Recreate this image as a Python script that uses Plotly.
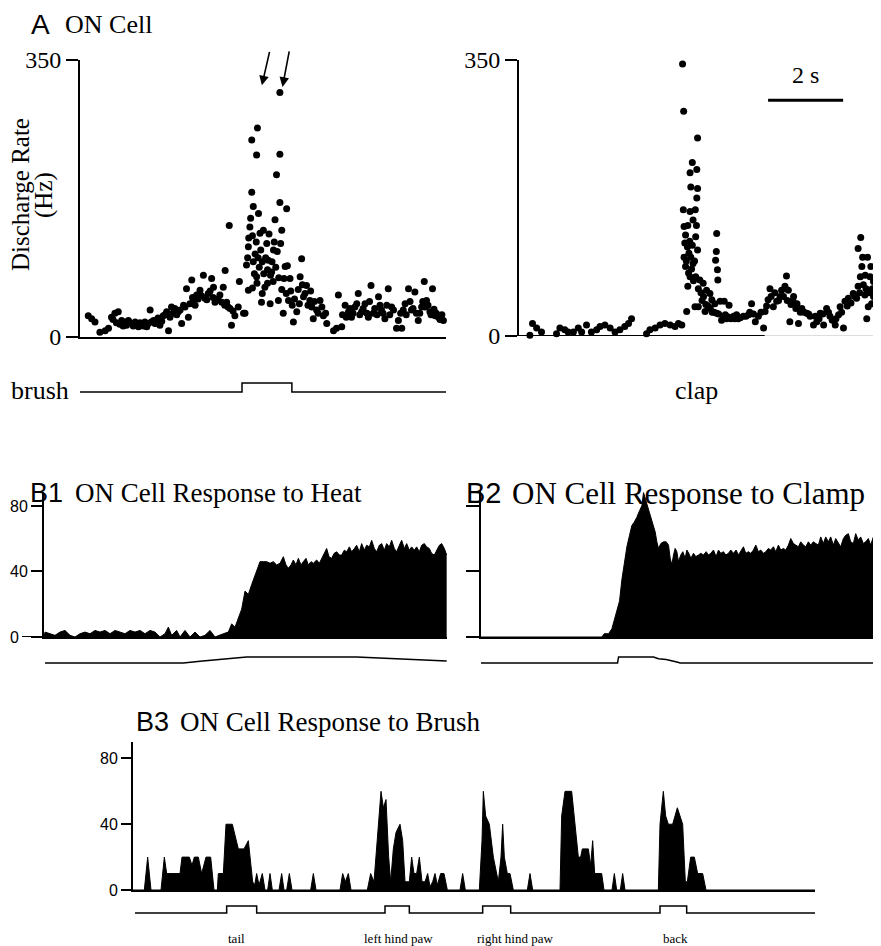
import plotly.graph_objects as go

W, H = 881, 946
PAGE_OFFSET = 8  # default body margin of the html page


def X(p):
    return (p - PAGE_OFFSET) / W


def Y(p):
    return 1 - (p - PAGE_OFFSET) / H


SERIF = "Liberation Serif, Times New Roman, serif"
SANS = "Liberation Sans, Arial, sans-serif"

# ---------------- Panel A: discharge rate (time s, rate Hz) ----------------
a_brush_rates = [
    (0.22, 27), (0.31, 23), (0.40, 19), (0.53, 6), (0.67, 8), (0.76, 11), (0.84, 25), (0.93, 30), (1.02, 32), (1.11, 21),
    (1.20, 19), (1.29, 21), (1.38, 17), (1.47, 19), (1.56, 13), (1.64, 15), (1.73, 19), (1.82, 17), (1.87, 34), (1.96, 21),
    (2.04, 17), (2.13, 15), (2.22, 27), (2.31, 32), (2.36, 8), (2.44, 38), (2.53, 36), (2.62, 32), (2.71, 17), (2.76, 40),
    (2.84, 61), (2.89, 25), (2.98, 72), (3.02, 44), (3.11, 53), (3.20, 59), (3.29, 78), (3.33, 49), (3.42, 55), (3.51, 74),
    (3.56, 63), (3.64, 46), (3.73, 53), (3.82, 63), (3.87, 84), (3.91, 44), (4.00, 36), (4.04, 15), (4.13, 27), (4.22, 38),
    (4.25, 70), (4.36, 30), (4.40, 30), (4.44, 91), (4.49, 59), (4.49, 114), (4.53, 139), (4.58, 183), (4.58, 249), (4.62, 165),
    (4.67, 105), (4.71, 76), (4.71, 230), (4.73, 264), (4.76, 156), (4.80, 131), (4.84, 44), (4.89, 135), (4.93, 63), (4.98, 118),
    (5.02, 97), (5.07, 42), (5.11, 82), (5.16, 110), (5.20, 148), (5.24, 205), (5.29, 46), (5.33, 231), (5.33, 170), (5.33, 309),
    (5.38, 135), (5.42, 30), (5.47, 89), (5.51, 162), (5.56, 46), (5.60, 74), (5.69, 19), (5.78, 32), (5.87, 76), (5.91, 99),
    (5.96, 51), (6.04, 65), (6.13, 46), (6.22, 23), (6.31, 34), (6.40, 46), (6.49, 27), (6.58, 17), (6.76, 8), (6.84, 11),
    (6.89, 53), (6.98, 13), (7.07, 40), (7.16, 32), (7.24, 25), (7.33, 38), (7.42, 55), (7.51, 32), (7.60, 42), (7.69, 25),
    (7.76, 65), (7.82, 30), (7.96, 51), (8.04, 34), (8.13, 23), (8.22, 61), (8.31, 38), (8.44, 11), (8.49, 21), (8.58, 11),
    (8.67, 42), (8.76, 61), (8.84, 34), (8.93, 57), (9.02, 21), (9.11, 38), (9.18, 70), (9.24, 46), (9.33, 32), (9.40, 61),
    (9.47, 27), (9.56, 25), (9.69, 21), (3.98, 141),
    (0.88, 22), (0.97, 18), (1.06, 16), (1.15, 14), (1.24, 15), (1.33, 18), (1.42, 14), (1.51, 16), (1.60, 18), (1.69, 14),
    (1.78, 13), (1.90, 19), (2.00, 17), (2.08, 24), (2.18, 20), (2.27, 28), (2.40, 25), (2.48, 30), (2.58, 28), (2.67, 34),
    (2.80, 38), (2.93, 42), (3.00, 50), (3.07, 40), (3.15, 48), (3.24, 52), (3.38, 47), (3.47, 58), (3.55, 50), (3.60, 44),
    (3.68, 48), (3.78, 44), (3.86, 40), (3.95, 38), (4.08, 33), (4.47, 100), (4.50, 125), (4.55, 150), (4.60, 128), (4.62, 95),
    (4.65, 80), (4.70, 120), (4.75, 100), (4.78, 88), (4.82, 110), (4.86, 95), (4.90, 80), (4.95, 100), (5.00, 85), (5.04, 130),
    (5.08, 78), (5.12, 95), (5.15, 70), (5.18, 120), (5.22, 88), (5.26, 108), (5.30, 75), (5.35, 118), (5.38, 60), (5.44, 74),
    (5.50, 55), (5.53, 90), (4.60, 62), (4.86, 55), (5.00, 68), (4.72, 68), (5.62, 58), (5.66, 40), (5.72, 48), (5.82, 60),
    (5.85, 42), (5.93, 66), (6.00, 55), (6.08, 40), (6.15, 58), (6.18, 38), (6.25, 45), (6.35, 30), (6.45, 38), (6.55, 30),
    (7.00, 28), (7.10, 25), (7.20, 36), (7.28, 30), (7.38, 42), (7.46, 28), (7.55, 36), (7.65, 30), (7.72, 45), (7.86, 36),
    (7.92, 28), (8.00, 40), (8.08, 30), (8.18, 40), (8.26, 28), (8.36, 34), (8.55, 30), (8.62, 34), (8.70, 28), (8.80, 45),
    (8.88, 36), (8.97, 30), (9.06, 30), (9.14, 45), (9.20, 38), (9.28, 40), (9.36, 28), (9.44, 35), (9.50, 30), (9.60, 22),
    (9.65, 28),
]

a_clap_rates = [
    (0.29, 1), (0.36, 16), (0.47, 10), (0.60, 5), (1.00, 3), (1.09, 10), (1.22, 8), (1.31, 5), (1.45, 5), (1.58, 10),
    (1.67, 5), (1.80, 14), (1.93, 5), (2.07, 8), (2.16, 12), (2.29, 14), (2.43, 10), (2.56, 5), (2.69, 8), (2.82, 12),
    (2.92, 16), (3.00, 22), (3.40, 3), (3.49, 8), (3.63, 10), (3.76, 14), (3.89, 16), (4.03, 14), (4.16, 12), (4.25, 16),
    (4.34, 14), (4.36, 345), (4.39, 285), (4.76, 251), (4.62, 220), (4.74, 211), (4.56, 207), (4.58, 189), (4.76, 187), (4.74, 175),
    (4.56, 158), (4.64, 147), (4.40, 139), (4.44, 128), (4.71, 126), (4.49, 113), (4.76, 109), (4.53, 105), (4.44, 88), (4.64, 92),
    (4.56, 75), (4.71, 75), (4.50, 63), (4.82, 71), (5.27, 130), (5.26, 107), (5.24, 96), (5.29, 84), (5.30, 71), (4.91, 67),
    (5.00, 58), (5.09, 54), (5.14, 46), (5.22, 41), (5.36, 44), (5.47, 44), (5.60, 39), (4.47, 31), (4.69, 37), (4.78, 37),
    (4.96, 31), (5.27, 29), (5.40, 20), (5.53, 22), (5.72, 25), (5.84, 22), (5.98, 25), (6.12, 27), (6.20, 41), (6.30, 18),
    (6.38, 25), (6.52, 10), (6.56, 31), (6.64, 46), (6.69, 60), (6.78, 37), (6.87, 44), (6.96, 50), (7.00, 58), (7.09, 63),
    (7.13, 76), (7.18, 58), (7.22, 18), (7.32, 50), (7.41, 41), (7.45, 16), (7.54, 35), (7.67, 29), (7.76, 25), (7.85, 14),
    (7.94, 18), (8.03, 29), (8.12, 14), (8.20, 35), (8.29, 25), (8.43, 14), (8.52, 27), (8.56, 37), (8.65, 10), (8.69, 44),
    (8.78, 48), (8.91, 54), (9.04, 63), (9.11, 125), (9.04, 111), (9.29, 100), (9.14, 88), (9.10, 75), (9.23, 77), (9.36, 75),
    (9.45, 69), (9.31, 58), (9.22, 52), (9.45, 50), (9.31, 37), (9.27, 22), (9.40, 41), (9.60, 63), (9.64, 46),
    (4.38, 160), (4.40, 100), (4.42, 118), (4.46, 95), (4.50, 140), (4.52, 80), (4.55, 120), (4.58, 100), (4.60, 85), (4.62, 115),
    (4.65, 70), (4.68, 95), (4.70, 160), (4.73, 140), (4.78, 60), (4.85, 55), (4.88, 45), (4.92, 50), (4.98, 40), (5.04, 38),
    (5.10, 35), (5.15, 30), (5.20, 30), (5.32, 28), (5.45, 25), (5.50, 27), (5.58, 24), (5.65, 22), (5.75, 22), (5.80, 27),
    (5.90, 23), (6.05, 25), (6.15, 30), (6.25, 28), (6.45, 30), (6.60, 38), (6.72, 50), (6.82, 55), (6.92, 45), (7.05, 50),
    (7.15, 45), (7.25, 40), (7.30, 45), (7.38, 35), (7.50, 30), (7.60, 30), (7.72, 28), (7.90, 25), (8.00, 22), (8.10, 28),
    (8.25, 30), (8.35, 20), (8.45, 22), (8.60, 30), (8.75, 38), (8.85, 42), (8.95, 50), (9.00, 48), (9.08, 55), (9.18, 65),
    (9.25, 60), (9.33, 55), (9.42, 60), (9.50, 55), (9.55, 48), (9.38, 88), (9.16, 100),
]

a_rate_ticks = [0, 350]
brush_time = [0, 4.32, 4.32, 5.65, 5.65, 9.81]
brush_level = [0, 0, 1, 1, 0, 0]
scale_bar_start = 6.64
scale_bar_len = 2  # seconds

# ---------------- Panel B: histograms (time in bins, rate in Hz) ----------------
heat_hist = [
    (132, 0), (135, 3), (150, 2), (165, 1), (180, 3), (195, 4), (210, 1), (225, 0), (240, 2), (255, 3),
    (270, 2), (285, 4), (300, 3), (315, 4), (330, 2), (345, 4), (360, 3), (375, 2), (390, 4), (405, 3),
    (420, 4), (435, 2), (450, 4), (465, 3), (480, 0), (495, 2), (505, 6), (515, 1), (530, 4), (540, 0),
    (555, 4), (570, 0), (585, 3), (600, 0), (615, 1), (630, 4), (645, 0), (655, 1), (670, 2), (685, 3),
    (695, 8), (705, 6), (715, 12), (725, 17), (735, 28), (745, 26), (755, 32), (765, 38), (780, 46), (790, 46),
    (800, 46), (810, 45), (820, 46), (830, 44), (840, 45), (850, 49), (858, 44), (865, 42), (873, 44), (880, 47),
    (888, 44), (895, 48), (903, 44), (910, 46), (918, 48), (925, 44), (933, 46), (940, 45), (950, 47), (958, 45),
    (965, 48), (972, 50), (980, 54), (987, 49), (995, 48), (1002, 51), (1010, 52), (1018, 50), (1025, 50), (1033, 53),
    (1040, 52), (1048, 55), (1055, 52), (1063, 54), (1070, 56), (1078, 52), (1085, 57), (1093, 53), (1100, 56), (1108, 55),
    (1115, 59), (1123, 54), (1130, 52), (1138, 56), (1145, 57), (1153, 53), (1160, 57), (1168, 55), (1175, 59), (1183, 54),
    (1190, 52), (1198, 56), (1205, 59), (1213, 54), (1220, 57), (1228, 53), (1235, 55), (1243, 53), (1250, 55), (1258, 52),
    (1265, 56), (1273, 57), (1280, 55), (1288, 54), (1295, 51), (1303, 50), (1310, 53), (1318, 56), (1325, 57), (1333, 54),
    (1340, 50),
]
heat_stim = [(135, 0), (550, 0), (600, 0.3), (680, 0.75), (740, 1), (1070, 1), (1150, 0.8), (1250, 0.5), (1340, 0.35)]

clamp_hist = [
    (62, 0), (425, 0), (432, 2), (445, 2), (455, 5), (462, 10), (470, 15), (478, 22), (485, 35), (492, 45),
    (500, 55), (508, 62), (515, 68), (522, 70), (530, 73), (538, 77), (545, 80), (550, 88), (556, 84), (562, 80),
    (570, 74), (578, 70), (585, 64), (590, 58), (595, 54), (602, 57), (610, 58), (618, 58), (625, 56), (630, 48),
    (635, 44), (640, 50), (645, 54), (650, 52), (655, 46), (662, 50), (668, 52), (675, 48), (680, 53), (686, 51),
    (692, 48), (700, 51), (707, 49), (715, 50), (722, 51), (730, 50), (738, 52), (745, 50), (752, 51), (760, 53),
    (768, 49), (775, 53), (782, 51), (790, 52), (797, 50), (805, 51), (812, 53), (820, 51), (828, 53), (835, 50),
    (842, 52), (850, 55), (857, 51), (865, 52), (872, 51), (880, 53), (887, 56), (895, 52), (902, 53), (910, 51),
    (917, 52), (925, 54), (932, 53), (940, 55), (947, 52), (955, 56), (962, 53), (970, 54), (977, 53), (985, 56),
    (992, 60), (1000, 57), (1007, 56), (1015, 55), (1022, 58), (1030, 56), (1037, 55), (1045, 58), (1052, 56), (1060, 58),
    (1067, 57), (1075, 56), (1082, 61), (1090, 57), (1097, 61), (1105, 58), (1112, 61), (1120, 56), (1127, 60), (1135, 57),
    (1142, 55), (1150, 60), (1157, 62), (1165, 63), (1172, 58), (1180, 57), (1187, 63), (1195, 59), (1202, 61), (1210, 57),
    (1217, 58), (1225, 60), (1232, 56), (1240, 61), (1247, 63), (1255, 58), (1263, 60),
]
clamp_stim = [(60, 0), (472, 0), (475, 1), (580, 1), (595, 0.7), (618, 0.6), (650, 0.15), (660, 0), (1263, 0)]

brush_hist = [
    (99, 0), (133, 0), (143, 20), (153, 0), (183, 0), (193, 20), (200, 10), (240, 10), (246, 20), (268, 20),
    (276, 15), (283, 20), (295, 20), (305, 10), (318, 20), (332, 20), (342, 0), (352, 0), (355, 10), (370, 10),
    (378, 40), (397, 40), (415, 25), (432, 25), (445, 30), (458, 5), (464, 3), (470, 10), (477, 3), (487, 10),
    (495, 0), (503, 0), (510, 10), (517, 0), (537, 0), (545, 10), (552, 0), (560, 0), (568, 10), (576, 0),
    (632, 0), (640, 10), (648, 0), (720, 0), (728, 10), (736, 5), (745, 10), (753, 0), (802, 0), (812, 10),
    (822, 5), (830, 25), (843, 60), (850, 50), (858, 55), (866, 20), (872, 5), (880, 25), (888, 35), (900, 40),
    (908, 30), (915, 5), (928, 5), (935, 20), (942, 10), (950, 10), (958, 20), (966, 5), (975, 5), (983, 10),
    (990, 2), (998, 5), (1005, 10), (1012, 3), (1022, 10), (1032, 10), (1042, 0), (1080, 0), (1088, 10), (1096, 0),
    (1138, 0), (1146, 30), (1150, 60), (1157, 45), (1168, 40), (1180, 20), (1195, 5), (1203, 20), (1208, 40), (1213, 20),
    (1222, 10), (1230, 10), (1240, 0), (1282, 0), (1290, 10), (1298, 0), (1380, 0), (1385, 45), (1392, 55), (1395, 60),
    (1415, 60), (1425, 40), (1435, 20), (1442, 20), (1447, 25), (1465, 25), (1472, 15), (1478, 30), (1484, 10), (1505, 10),
    (1512, 0), (1536, 0), (1543, 10), (1550, 0), (1561, 0), (1568, 10), (1575, 0), (1675, 0), (1680, 40), (1690, 60),
    (1697, 45), (1705, 40), (1712, 40), (1718, 40), (1725, 45), (1732, 50), (1740, 45), (1748, 40), (1756, 5), (1762, 5),
    (1772, 20), (1783, 20), (1793, 10), (1808, 10), (1818, 0), (2145, 0),
]
brush_stim = [
    (105, 0), (380, 0), (380, 1), (470, 1), (470, 0), (855, 0), (855, 1), (928, 1), (928, 0), (1148, 0),
    (1148, 1), (1232, 1), (1232, 0), (1680, 0), (1680, 1), (1760, 1), (1760, 0), (2145, 0),
]
brush_sites = ["tail", "left hind paw", "right hind paw", "back"]
brush_site_pos = [410, 895, 1245, 1725]
hist_ticks = [0, 40, 80]
heat_tick_text = ["0\u00a0\u00a0", "40", "80"]


def xs(pts):
    return [p[0] for p in pts]


def ys(pts):
    return [p[1] for p in pts]


fig = go.Figure()
dot = dict(size=7, color="black")
fig.add_trace(go.Scatter(x=xs(a_brush_rates), y=ys(a_brush_rates), mode="markers", marker=dot,
                         cliponaxis=False, xaxis="x", yaxis="y"))
fig.add_trace(go.Scatter(x=brush_time, y=brush_level, mode="lines", line=dict(color="black", width=1.5),
                         xaxis="x", yaxis="y3"))
fig.add_trace(go.Scatter(x=xs(a_clap_rates), y=ys(a_clap_rates), mode="markers", marker=dot,
                         cliponaxis=False, xaxis="x2", yaxis="y2"))
fig.add_trace(go.Scatter(x=[scale_bar_start, scale_bar_start + scale_bar_len], y=[299, 299], mode="lines",
                         line=dict(color="black", width=3), xaxis="x2", yaxis="y2"))

fill = dict(mode="lines", fill="tozeroy", fillcolor="black", line=dict(color="black", width=1))
stim_line = dict(mode="lines", line=dict(color="black", width=1.5))
fig.add_trace(go.Scatter(x=xs(heat_hist), y=ys(heat_hist), xaxis="x3", yaxis="y4", **fill))
fig.add_trace(go.Scatter(x=xs(heat_stim), y=ys(heat_stim), xaxis="x3", yaxis="y5", **stim_line))
fig.add_trace(go.Scatter(x=xs(clamp_hist), y=ys(clamp_hist), xaxis="x4", yaxis="y6", **fill))
fig.add_trace(go.Scatter(x=xs(clamp_stim), y=ys(clamp_stim), xaxis="x4", yaxis="y7", **stim_line))
fig.add_trace(go.Scatter(x=xs(brush_hist), y=ys(brush_hist), xaxis="x5", yaxis="y8", **fill))
fig.add_trace(go.Scatter(x=xs(brush_stim), y=ys(brush_stim), xaxis="x5", yaxis="y9", **stim_line))

base_x = dict(showgrid=False, zeroline=False, ticks="", showticklabels=False, showline=True,
              linecolor="black", linewidth=2, fixedrange=True, automargin=False)
base_y = dict(showgrid=False, zeroline=False, ticks="outside", showline=True, linecolor="black",
              linewidth=2, tickwidth=2, tickcolor="black", fixedrange=True, automargin=False)
hidden = dict(visible=False, fixedrange=True)

layout = dict(
    width=W, height=H, margin=dict(l=0, r=0, t=0, b=0, pad=0, autoexpand=False), autosize=False,
    paper_bgcolor="white", plot_bgcolor="rgba(0,0,0,0)", showlegend=False,
    xaxis=dict(base_x, domain=[X(80), X(446)], range=[0, 9.76], anchor="y"),
    yaxis=dict(base_y, domain=[Y(337), Y(60)], range=[0, 350], tickvals=a_rate_ticks, ticklen=12,
               tickfont=dict(family=SERIF, size=24, color="black"), anchor="x"),
    yaxis3=dict(hidden, domain=[Y(396.5), Y(378.5)], range=[-0.5, 1.5], anchor="x"),
    xaxis2=dict(base_x, showline=False, domain=[X(519), X(881)], range=[0, 9.65], anchor="y2"),
    yaxis2=dict(base_y, domain=[Y(336), Y(60)], range=[0, 350], tickvals=a_rate_ticks, ticklen=12,
                tickfont=dict(family=SERIF, size=24, color="black"), anchor="x2"),
    xaxis3=dict(base_x, domain=[X(44), X(447)], range=[132, 1341], anchor="y4"),
    yaxis4=dict(base_y, domain=[Y(637), Y(492)], range=[0, 88.5], tickvals=hist_ticks, ticktext=heat_tick_text,
                ticklen=11, tickfont=dict(family=SANS, size=16, color="black"), anchor="x3"),
    yaxis5=dict(hidden, domain=[Y(669), Y(651)], range=[-1, 2], anchor="x3"),
    xaxis4=dict(base_x, domain=[X(481), X(881)], range=[62, 1263], anchor="y6"),
    yaxis6=dict(base_y, domain=[Y(637), Y(490)], range=[0, 89.6], tickvals=hist_ticks, ticklen=13,
                showticklabels=False, anchor="x4"),
    yaxis7=dict(hidden, domain=[Y(669), Y(651)], range=[-1, 2], anchor="x4"),
    xaxis5=dict(base_x, domain=[X(133), X(815)], range=[99, 2145], anchor="y8"),
    yaxis8=dict(base_y, domain=[Y(890), Y(742)], range=[0, 90], tickvals=hist_ticks, ticklen=10,
                tickfont=dict(family=SANS, size=16, color="black"), anchor="x5"),
    yaxis9=dict(hidden, domain=[Y(920), Y(899)], range=[-1, 2], anchor="x5"),
)
fig.update_layout(**layout)

# right panel baseline (solid part then faint part)
fig.add_shape(type="line", xref="x2", yref="y2", x0=0, x1=6.55, y0=0, y1=0, line=dict(color="black", width=2))
fig.add_shape(type="line", xref="x2", yref="y2", x0=6.55, x1=9.65, y0=0, y1=0, line=dict(color="#bbbbbb", width=1))
# B1 baseline extends left of the axis
fig.add_shape(type="line", xref="paper", yref="y4", x0=X(22), x1=X(44), y0=0, y1=0, line=dict(color="black", width=2))


def txt(text, x, y, size, family, xanchor="left", xref="paper", angle=0):
    fig.add_annotation(text=text, x=x, y=y, xref=xref, yref="paper", showarrow=False, xanchor=xanchor,
                       yanchor="middle", textangle=angle, borderpad=0,
                       font=dict(family=family, size=size, color="black"))


txt("A", X(30), Y(25), 28, SANS)
txt("ON Cell", X(64), Y(25), 26, SERIF)
txt("Discharge Rate", X(20), Y(195), 25, SERIF, xanchor="center", angle=-90)
txt("(Hz)", X(44), Y(195), 25, SERIF, xanchor="center", angle=-90)
txt("brush", X(10), Y(390), 26, SERIF)
txt("clap", 4.72, Y(390), 26, SERIF, xanchor="center", xref="x2")
fig.add_annotation(text="2 s", x=scale_bar_start + scale_bar_len / 2, y=331, xref="x2", yref="y2",
                   showarrow=False, font=dict(family=SERIF, size=24, color="black"))

txt("B1", X(29), Y(493), 27, SANS)
txt("ON Cell Response to Heat", X(74), Y(493), 27, SERIF)
txt("B2", X(465), Y(493), 29, SANS)
txt("ON Cell Response to Clamp", X(511), Y(493), 31, SERIF)
txt("B3", X(135), Y(722), 27, SANS)
txt("ON Cell Response to Brush", X(179), Y(722), 27, SERIF)

for name, pos in zip(brush_sites, brush_site_pos):
    txt(name, pos, Y(938), 13, SERIF, xanchor="center", xref="x5")

arrow = dict(showarrow=True, text="", arrowhead=2, arrowsize=1.2, arrowwidth=1.6, arrowcolor="black")
fig.add_annotation(x=4.85, y=318, xref="x", yref="y", ax=8, ay=-35, **arrow)
fig.add_annotation(x=5.40, y=316, xref="x", yref="y", ax=7, ay=-37, **arrow)
fig.add_annotation(x=4.59, y=369, xref="x2", yref="y2", ax=7, ay=-36, **arrow)

fig.write_html("out.html", config={"displayModeBar": False})
